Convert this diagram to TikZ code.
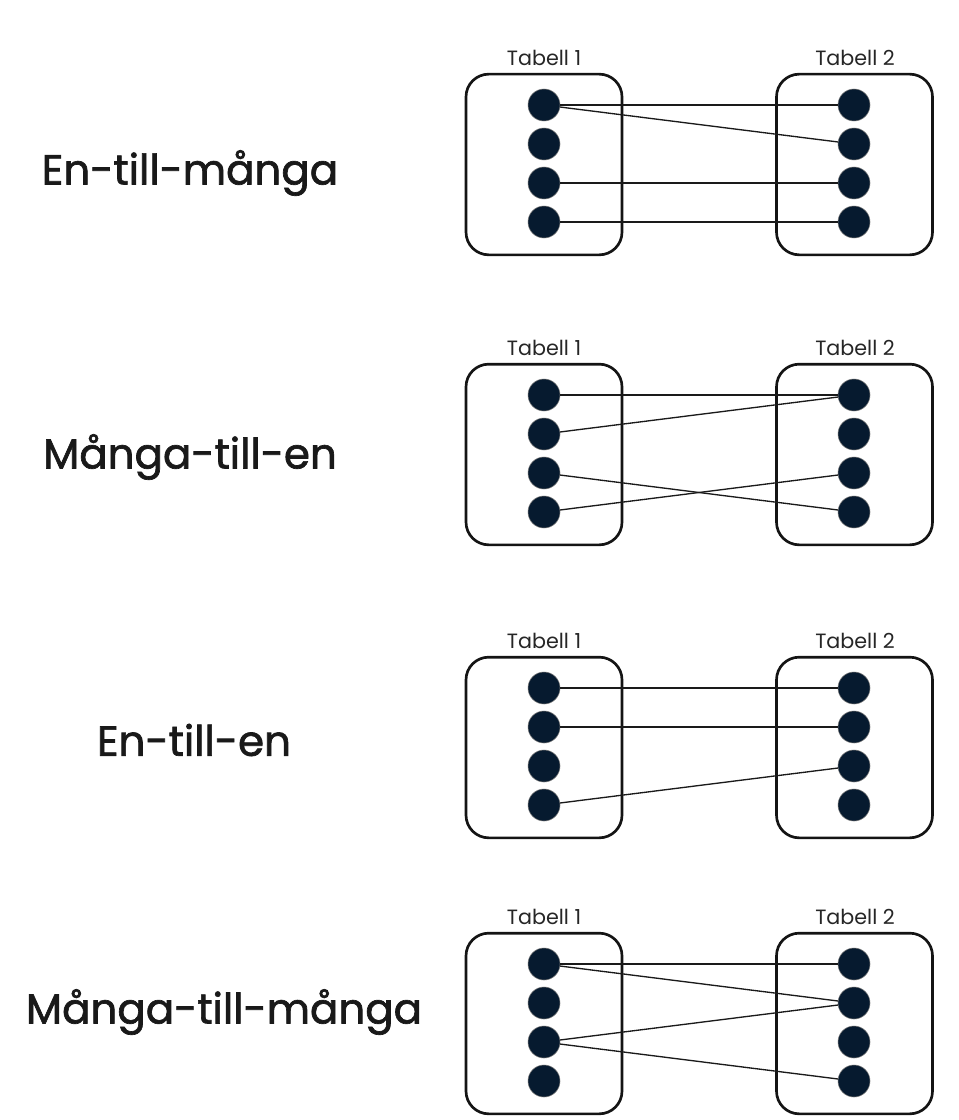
\documentclass[tikz,border=0pt]{standalone}
\usepackage{fontspec}
\setmainfont{Poppins}
\newfontfamily\rubrikfont[FakeBold=1.6]{Poppins}
\definecolor{dotblue}{HTML}{061A2F}
\definecolor{linegray}{HTML}{1A1A1A}
\begin{document}
\begin{tikzpicture}[x=0.75pt, y=-0.75pt,
    tabell/.style = {draw=black!92, line width=2pt, rounded corners=17pt, minimum width=117pt, minimum height=135.5pt, inner sep=0pt},
    dot/.style    = {circle, fill=dotblue, draw=black!55, line width=0.4pt, minimum size=24pt, inner sep=0pt},
    tlabel/.style = {font=\fontsize{15.5}{17}\selectfont, text=black!85},
    rubrik/.style = {font=\rubrikfont\fontsize{31.5}{36}\selectfont, text=black!90},
    link/.style   = {draw=linegray, line width=1pt}]
    \useasboundingbox[fill=white] (0,0) rectangle (959,1120);
    %
    \node[rubrik] (namn1) at (190,173) {En-till-många};
    \node[rubrik] (namn2) at (190,457) {Många-till-en};
    \node[rubrik] (namn3) at (194,740) {En-till-en};
    \node[rubrik] (namn4) at (224,1012) {Många-till-många};
    %
    \foreach \b/\top in {1/74, 2/364, 3/657, 4/933} {
      \node[tabell] (vbox\b) at (544,{\top+90.5}) {};
      \node[tabell] (hbox\b) at (854.5,{\top+90.5}) {};
      \node[tlabel] (vlab\b) at (544,{\top-16}) {Tabell 1};
      \node[tlabel] (hlab\b) at (855,{\top-16}) {Tabell 2};
      \foreach \i in {1,...,4} {
        \node[dot] (v\b-\i) at (544,{\top+31+39*(\i-1)}) {};
        \node[dot] (h\b-\i) at (854,{\top+31+39*(\i-1)}) {};
      }
    }
    % kopplingar
    \foreach \b/\lista in {1/{1/1,1/2,3/3,4/4}, 2/{1/1,2/1,3/4,4/3}, 3/{1/1,2/2,4/3}, 4/{1/1,1/2,3/2,3/4}} {
      \foreach \p/\q in \lista {
        \draw[link] (v\b-\p) -- (h\b-\q);
      }
    }
\end{tikzpicture}
\end{document}
